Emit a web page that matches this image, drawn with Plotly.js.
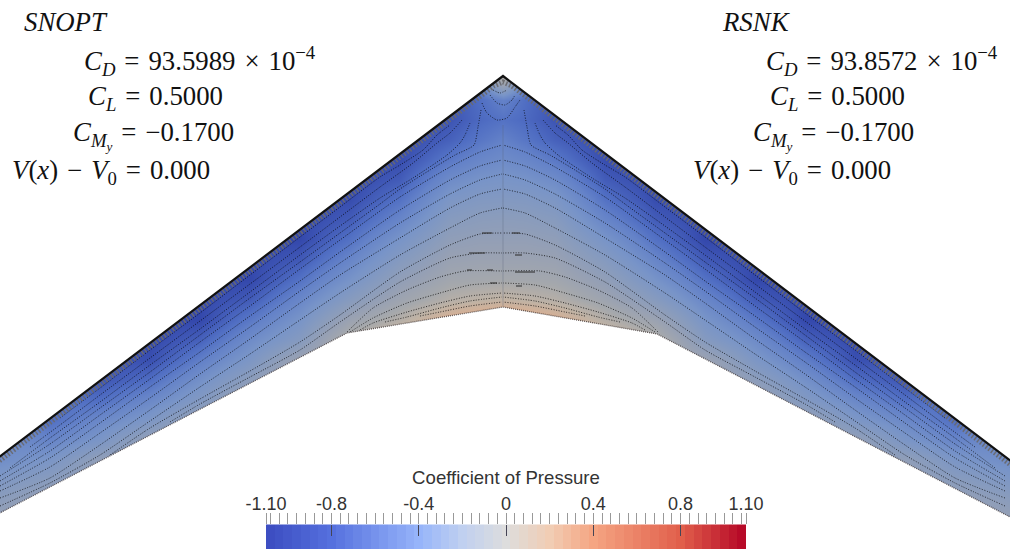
<!DOCTYPE html>
<html>
<head>
<meta charset="utf-8">
<script src="https://cdn.plot.ly/plotly-3.0.1.min.js"></script>
<style>html,body{margin:0;padding:0;background:#fff}#c{width:1010px;height:550px}</style>
</head>
<body>
<div id="c"></div>
<script>
// ---- data ----
const mirrorAxis = 1005;
const wingRows = [60,80,100,120,140,160,180,200,220,240,260,280,300,320,340,360,380,400,420,440,460,480,500,520,540];
const wingCols = [-10,50,100,150,200,250,300,350,400,450,480,502.5];
const cpCol0   = [-.72,-.72,-.72,-.72,-.72,-.72,-.72,-.72,-.72,-.72,-.72,-.72,-.72,-.72,-.72,-.72,-.72,-.72,-.72,-.72,-.72,-.6,-.48,-.35,-.35];
const cpCol50  = [-.9,-.9,-.9,-.9,-.9,-.9,-.9,-.9,-.9,-.9,-.9,-.9,-.9,-.9,-.9,-.9,-.9,-.9,-.9,-.78,-.62,-.48,-.35,-.35,-.35];
const cpCol100 = [-1,-1,-1,-1,-1,-1,-1,-1,-1,-1,-1,-1,-1,-1,-1,-1,-1,-.9,-.75,-.62,-.4,-.35,-.35,-.35,-.35];
const cpCol150 = [-1.05,-1.05,-1.05,-1.05,-1.05,-1.05,-1.05,-1.05,-1.05,-1.05,-1.05,-1.05,-1.05,-1.05,-1.05,-1.02,-.9,-.75,-.6,-.38,-.35,-.35,-.35,-.35,-.35];
const cpCol200 = [-1.05,-1.05,-1.05,-1.05,-1.05,-1.05,-1.05,-1.05,-1.05,-1.05,-1.05,-1.05,-1.05,-1.05,-.95,-.82,-.68,-.55,-.35,-.3,-.3,-.3,-.3,-.3,-.3];
const cpCol250 = [-1.05,-1.05,-1.05,-1.05,-1.05,-1.05,-1.05,-1.05,-1.05,-1.05,-1.05,-1.05,-.97,-.85,-.72,-.6,-.45,-.3,-.3,-.3,-.3,-.3,-.3,-.3,-.3];
const cpCol300 = [-1.05,-1.05,-1.05,-1.05,-1.05,-1.05,-1.05,-1.05,-1.05,-1.05,-.98,-.88,-.76,-.64,-.52,-.3,-.2,-.2,-.2,-.2,-.2,-.2,-.2,-.2,-.2];
const cpCol350 = [-1.05,-1.05,-1.05,-1.05,-1.05,-1.05,-1.05,-1.03,-.97,-.88,-.77,-.65,-.5,-.3,-.1,-.1,-.1,-.1,-.1,-.1,-.1,-.1,-.1,-.1,-.1];
const cpCol400 = [-1.05,-1.05,-1.05,-1.05,-1.05,-1.03,-.97,-.88,-.77,-.64,-.52,-.4,-.27,-.1,.1,.1,.1,.1,.1,.1,.1,.1,.1,.1,.1];
const cpCol450 = [-1,-1,-1,-1,-.95,-.85,-.72,-.6,-.5,-.41,-.32,-.23,-.1,.15,.2,.2,.2,.2,.2,.2,.2,.2,.2,.2,.2];
const cpCol480 = [-.7,-.75,-.9,-.92,-.86,-.76,-.65,-.55,-.46,-.38,-.3,-.21,-.05,.25,.25,.25,.25,.25,.25,.25,.25,.25,.25,.25,.25];
const cpCol503 = [-.15,-.15,-.8,-.88,-.8,-.72,-.63,-.54,-.45,-.38,-.3,-.2,-.02,.3,.3,.3,.3,.3,.3,.3,.3,.3,.3,.3,.3];

const leadingEdgeX = [-6,503,1012];
const leadingEdgeY = [461,76,462];
const trailingEdgeX = [-6,347,503,657,1012];
const trailingEdgeY = [516,333,307,334,518];
const fringeX = [-6,494,503,512,1012];
const fringeY = [465,86,82,86,466];
const seamX = [503,503];
const seamY = [125,306];

const lineXs = [
 [60,100,150,200,250,300,340,380,400,423,437,450],
 [30,60,100,150,200,250,300,340,380,413,437,450,462],
 [10,50,100,150,200,250,300,340,380,413,447,460,465,470],
 [0,50,100,150,200,250,300,340,380,400,430,455,474,478,481],
 [0,50,100,150,200,250,300,340,400,450,480,502],
 [0,50,100,150,200,250,300,340,400,450,480,502],
 [0,50,100,150,200,250,300,340,400,450,480,502],
 [0,50,100,150,200,250,300,340,400,450,480,502],
 [0,50,100,150,200,250,300,340,400,450,480,502],
 [110,150,200,250,300,340,400,450,480,502],
 [170,200,250,300,340,400,450,480,502],
 [347,373,407,440,465,502],
 [350,373,407,440,470,502],
 [360,373,407,440,470,502],
 [385,407,440,470,502],
 [420,440,470,502]
];
const lineYs = [
 [418,388,350,313,275,237,207,177,165,150,135,125],
 [447,425,395,358,321,284,247,217,187,163,143,133,120],
 [468,438,402,365,329,292,255,226,198,178,155,143,135,123],
 [476,444,408,372,335,298,262,233,204,189,170,155,145,127,110],
 [481,451,415,379,342,306,269,240,197,167,152,145],
 [486,458,423,387,352,316,281,252,210,180,166,160],
 [491,467,433,398,362,327,291,263,223,194,180,174],
 [498,478,445,410,374,339,303,275,238,208,194,189],
 [506,483,455,421,387,354,320,293,255,228,213,208],
 [455,428,399,371,342,315,272,245,234,233],
 [422,404,377,350,322,282,258,253,253],
 [332,308,290,277,271,271],
 [332,318,303,293,285,283],
 [330,323,312,303,296,293],
 [322,317,308,301,297],
 [316,312,306,302]
];
const apexLineXs = [[482,487,497,507,515,520],[490,497,505,512,515],[493,500,507]];
const apexLineYs = [[103,113,120,118,107,100],[95,103,105,100,95],[90,93,90]];
const dashX = [482,492,null,512,520,null,469,485,null,515,522,null,467,472,null,487,493,null,515,535,null,490,497,null,516,522];
const dashY = [233,233,null,233,233,null,253,253,null,255,255,null,270,270,null,270,270,null,272,272,null,283,283,null,286,286];

const barBands = [-1.08,-1.04,-1,-.96,-.92,-.88,-.84,-.8,-.76,-.72,-.68,-.64,-.6,-.56,-.52,-.48,-.44,-.4,-.36,-.32,-.28,-.24,-.2,-.16,-.12,-.08,-.04,0,.04,.08,.12,.16,.2,.24,.28,.32,.36,.4,.44,.48,.52,.56,.6,.64,.68,.72,.76,.8,.84,.88,.92,.96,1,1.04,1.08];
const barTickVals = [-1.1,-.8,-.4,0,.4,.8,1.1];
const barTickText = ['-1.10','-0.8','-0.4','0','0.4','0.8','1.10'];
const barInnerTicks = [-.8,-.4,0,.4,.8];
const barTitle = 'Coefficient of Pressure';

const gap = '\u2004';
const textX = [22,82,86,71,10,720,764,768,751,691];
const textY = [22,61,98,135,172,22,61,98,135,172];
const texts = [
 '<i>SNOPT</i>',
 '<i>C<sub>D</sub></i>'+gap+'='+gap+'93.5989'+gap+'×'+gap+'10<sup>−4</sup>',
 '<i>C<sub>L</sub></i>'+gap+'='+gap+'0.5000',
 '<i>C<sub>M<sub>y</sub></sub></i>'+gap+'='+gap+'−0.1700',
 '<i>V</i>(<i>x</i>)'+gap+'−'+gap+'<i>V</i><sub>0</sub>'+gap+'='+gap+'0.000',
 '<i>RSNK</i>',
 '<i>C<sub>D</sub></i>'+gap+'='+gap+'93.8572'+gap+'×'+gap+'10<sup>−4</sup>',
 '<i>C<sub>L</sub></i>'+gap+'='+gap+'0.5000',
 '<i>C<sub>M<sub>y</sub></sub></i>'+gap+'='+gap+'−0.1700',
 '<i>V</i>(<i>x</i>)'+gap+'−'+gap+'<i>V</i><sub>0</sub>'+gap+'='+gap+'0.000'
];

// ---- assembling ----
const cols = [cpCol0,cpCol50,cpCol100,cpCol150,cpCol200,cpCol250,cpCol300,cpCol350,cpCol400,cpCol450,cpCol480,cpCol503];
const allCols = cols.concat(cols.slice(0,-1).reverse());
const allX = wingCols.concat(wingCols.slice(0,-1).reverse().map(x=>mirrorAxis-x));
const z = wingRows.map((_,r)=>allCols.map(c=>c[r]));

const wingScale = [
 [0,'rgb(45,62,165)'],[0.023,'rgb(52,72,172)'],[0.09,'rgb(80,110,195)'],[0.136,'rgb(100,130,200)'],[0.205,'rgb(120,148,200)'],
 [0.273,'rgb(135,155,190)'],[0.34,'rgb(150,160,180)'],[0.41,'rgb(165,168,172)'],[0.477,'rgb(190,178,165)'],[0.545,'rgb(212,176,150)'],
 [0.636,'rgb(232,160,125)'],[0.72,'rgb(235,130,100)'],[1,'rgb(180,4,38)']];
const barScale = [
 [0,'rgb(59,76,192)'],[0.136,'rgb(85,112,222)'],[0.318,'rgb(150,180,250)'],[0.41,'rgb(192,208,240)'],
 [0.5,'rgb(221,221,221)'],[0.59,'rgb(241,205,180)'],[0.682,'rgb(245,165,130)'],[0.864,'rgb(225,95,75)'],[1,'rgb(180,4,38)']];

const traces = [{type:'heatmap',x:allX,y:wingRows,z:z,zmin:-1.1,zmax:1.1,zsmooth:'best',colorscale:wingScale,showscale:false,hoverinfo:'skip'}];

traces.push({type:'scatter',mode:'lines',x:seamX,y:seamY,hoverinfo:'skip',line:{color:'rgba(90,100,120,0.35)',width:1}});
const contourLine = {color:'rgba(0,0,0,0.85)',width:0.9,dash:'1px,1.6px',shape:'spline',smoothing:0.6};
lineXs.forEach((xs,i)=>{
  traces.push({type:'scatter',mode:'lines',x:xs,y:lineYs[i],line:contourLine,hoverinfo:'skip'});
  traces.push({type:'scatter',mode:'lines',x:xs.map(x=>mirrorAxis-x),y:lineYs[i],line:contourLine,hoverinfo:'skip'});
});
apexLineXs.forEach((xs,i)=>traces.push({type:'scatter',mode:'lines',x:xs,y:apexLineYs[i],line:contourLine,hoverinfo:'skip'}));
traces.push({type:'scatter',mode:'lines',x:dashX,y:dashY,hoverinfo:'skip',line:{color:'#333',width:1.1}});

// white outside of the planform
traces.push({type:'scatter',mode:'none',fill:'toself',fillcolor:'#fff',hoverinfo:'skip',
  x:[-20].concat(leadingEdgeX,[1030,1030,-20]),y:[461].concat(leadingEdgeY,[462,-20,-20])});
traces.push({type:'scatter',mode:'none',fill:'toself',fillcolor:'#fff',hoverinfo:'skip',
  x:[-20].concat(trailingEdgeX,[1030,1030,-20]),y:[516].concat(trailingEdgeY,[518,570,570])});
// edges
traces.push({type:'scatter',mode:'lines',x:fringeX,y:fringeY,hoverinfo:'skip',line:{color:'rgba(105,105,110,0.95)',width:5,dash:'1.5px,2px'}});
traces.push({type:'scatter',mode:'lines',x:leadingEdgeX,y:leadingEdgeY,hoverinfo:'skip',line:{color:'#111',width:2.2}});
traces.push({type:'scatter',mode:'lines',x:trailingEdgeX,y:trailingEdgeY,hoverinfo:'skip',line:{color:'rgba(40,30,30,0.7)',width:1.3,dash:'1px,1px'}});
// colour bar
traces.push({type:'heatmap',xaxis:'x2',yaxis:'y2',x:barBands,y:[0,1],z:[barBands,barBands],zmin:-1.1,zmax:1.1,colorscale:barScale,showscale:false,hoverinfo:'skip'});

const annotations = texts.map((t,i)=>({xref:'x',yref:'y',x:textX[i],y:textY[i],text:t,showarrow:false,xanchor:'left',yanchor:'middle',
  font:{family:'Liberation Serif, serif',size:26.8,color:'#111'}}));

const layout = {
  width:1010,height:550,margin:{l:0,r:0,t:0,b:0},paper_bgcolor:'#fff',plot_bgcolor:'#fff',showlegend:false,
  xaxis:{range:[0,1010],visible:false,domain:[0,1],fixedrange:true},
  yaxis:{range:[550,0],visible:false,domain:[0,1],fixedrange:true},
  xaxis2:{domain:[266/1010,746/1010],range:[-1.1,1.1],anchor:'y2',side:'top',tickmode:'array',tickvals:barTickVals,ticktext:barTickText,
    ticks:'outside',ticklen:11,tickcolor:'#999',tickwidth:1,showgrid:false,zeroline:false,showline:false,ticklabelstandoff:-5,
    tickfont:{family:'Liberation Sans, Arial, sans-serif',size:18,color:'#333'},
    title:{text:barTitle,font:{family:'Liberation Sans, Arial, sans-serif',size:18.6,color:'#333'},standoff:4},
    minor:{tickmode:'linear',tick0:0,dtick:.04,ticks:'outside',ticklen:11,tickcolor:'#999',tickwidth:1,showgrid:false}},
  xaxis3:{domain:[266/1010,746/1010],range:[-1.1,1.1],anchor:'y2',overlaying:'x2',side:'top',tickmode:'array',tickvals:barInnerTicks,
    ticks:'inside',ticklen:11,tickcolor:'#445',tickwidth:1,showticklabels:false,showgrid:false,zeroline:false,showline:false},
  yaxis2:{domain:[1/550,25.5/550],range:[0,1],anchor:'x2',visible:false,fixedrange:true},
  annotations:annotations
};
traces.push({type:'scatter',mode:'none',xaxis:'x3',yaxis:'y2',x:[-1.1,1.1],y:[0,1],hoverinfo:'skip'});
Plotly.newPlot('c',traces,layout,{staticPlot:true,displayModeBar:false});
</script>
</body>
</html>
